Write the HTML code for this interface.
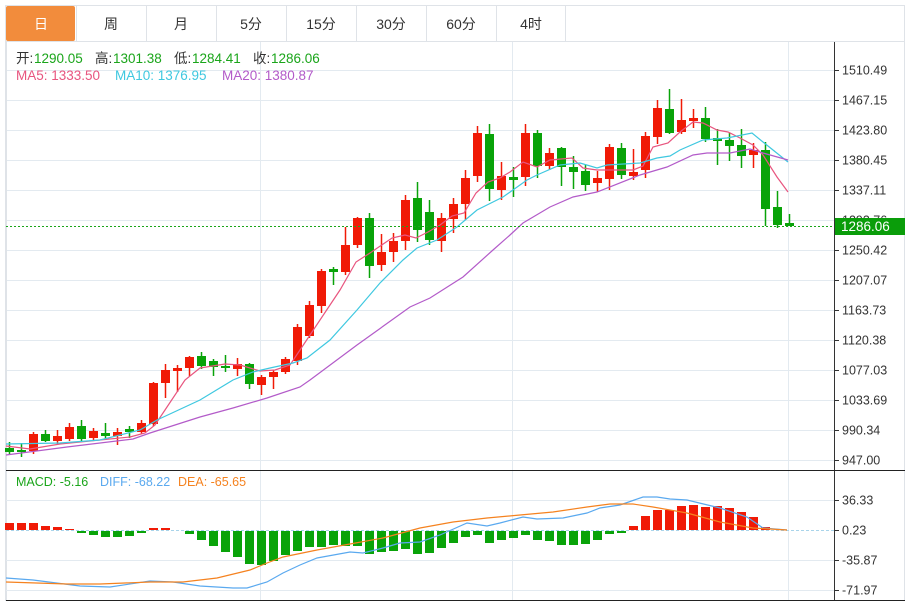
<!DOCTYPE html>
<html><head><meta charset="utf-8"><style>
body{margin:0;background:#fff;width:910px;height:602px;overflow:hidden;font-family:"Liberation Sans","Noto Sans CJK SC",sans-serif}
svg{position:absolute;left:0;top:0}
</style></head><body>
<svg id="s" width="910" height="602" xmlns="http://www.w3.org/2000/svg" font-family="Liberation Sans, Noto Sans CJK SC, sans-serif"></svg>
<script>
var s=document.getElementById('s'),h='';
h+='<rect x="5.5" y="5.5" width="899" height="595" fill="none" stroke="#dfe3e8"/>';
var tabs=['日','周','月','5分','15分','30分','60分','4时'];
for(var i=0;i<8;i++){var x=6+i*70;
 if(i==0)h+='<rect x="6" y="6" width="69" height="35" rx="2" fill="#f28c3c"/>';
 else h+='<line x1="'+(x+0.5)+'" y1="6" x2="'+(x+0.5)+'" y2="41" stroke="#dfe3e8"/>';
 h+='<text x="'+(x+35)+'" y="29" font-size="14" text-anchor="middle" fill="'+(i==0?'#fff':'#333')+'">'+tabs[i]+'</text>';}
h+='<line x1="565.5" y1="6" x2="565.5" y2="41" stroke="#dfe3e8"/>';
h+='<line x1="6" y1="41.5" x2="905" y2="41.5" stroke="#dfe3e8"/>';
var lab=['1510.49','1467.15','1423.80','1380.45','1337.11','1293.76','1250.42','1207.07','1163.73','1120.38','1077.03','1033.69','990.34','947.00'];
for(i=0;i<14;i++){var y=70+i*30.0;h+='<line x1="6" y1="'+(y+.5)+'" x2="834" y2="'+(y+.5)+'" stroke="#e3eaf0"/><line x1="834" y1="'+(y+.5)+'" x2="839" y2="'+(y+.5)+'" stroke="#333"/><text x="842" y="'+(y+4.5)+'" font-size="12.5" fill="#333">'+lab[i]+'</text>';}
[260,512,788].forEach(function(x){h+='<line x1="'+(x+.5)+'" y1="42" x2="'+(x+.5)+'" y2="600" stroke="#e3eaf0"/>';});
h+='<line x1="6.5" y1="42" x2="6.5" y2="600" stroke="#dfe3e8"/>';
h+='<line x1="834.5" y1="42" x2="834.5" y2="600" stroke="#333"/>';
h+='<line x1="6" y1="470.5" x2="905" y2="470.5" stroke="#222"/>';
h+='<line x1="6" y1="600.5" x2="905" y2="600.5" stroke="#222"/>';
// legend
function t(x,y,txt,col,fs){h+='<text x="'+x+'" y="'+y+'" font-size="'+(fs||13.5)+'" fill="'+col+'">'+txt+'</text>';}
t(16,63,'开:','#333');t(34,63,'1290.05','#1aa51a');
t(95,63,'高:','#333');t(113,63,'1301.38','#1aa51a');
t(174,63,'低:','#333');t(192,63,'1284.41','#1aa51a');
t(253,63,'收:','#333');t(271,63,'1286.06','#1aa51a');
t(16,80,'MA5: 1333.50','#e8557f');t(115,80,'MA10: 1376.95','#3fc8e0');t(222,80,'MA20: 1380.87','#b35bc9');
var c=[['g',448,452,442,455],['g',450,452,443,457],['r',434,451,432,454],['g',434,441,430,442],['r',436,441,430,444],['r',427,439,423,441],['g',426,439,420,442],['r',431,438,428,441],['g',433,436,423,440],['r',432,436,428,445],['g',429,432,426,438],['r',423,432,420,434],['r',383,424,382,426],['r',370,383,364,398],['r',368,371,365,392],['r',357,368,356,376],['g',356,366,352,369],['g',361,367,359,376],['g',366,368,355,372],['r',364,369,358,376],['g',364,384,363,389],['r',377,385,375,395],['r',372,377,370,389],['r',359,372,357,374],['r',327,361,324,365],['r',305,336,301,338],['r',271,306,269,313],['g',269,272,267,285],['r',245,272,227,275],['r',218,245,217,248],['g',218,266,213,278],['r',252,265,234,271],['r',241,252,233,262],['r',200,241,195,250],['g',198,230,182,242],['g',212,240,200,245],['r',218,241,213,252],['r',204,219,198,233],['r',178,204,170,220],['r',133,176,126,182],['g',134,189,124,201],['r',176,190,162,200],['g',177,180,167,197],['r',133,177,124,186],['g',133,166,130,178],['r',153,166,148,170],['g',148,167,147,186],['g',167,172,156,189],['g',171,185,165,191],['r',178,183,171,192],['r',147,179,144,190],['g',148,175,143,179],['r',172,176,149,180],['r',136,170,132,178],['r',108,137,100,144],['g',109,133,89,134],['r',120,132,99,134],['r',118,121,109,128],['g',118,139,107,142],['g',138,141,129,165],['g',140,146,133,161],['g',145,156,129,168],['r',150,155,143,168],['g',150,209,142,226],['g',207,225,191,228],['g',223,226,214,226]];
var R='#f01a06',G='#09a309';
for(i=0;i<c.length;i++){var x=9+12*i,d=c[i],col=d[0]=='r'?R:G;
 h+='<line x1="'+(x+.5)+'" y1="'+d[3]+'" x2="'+(x+.5)+'" y2="'+d[4]+'" stroke="'+col+'" stroke-width="1.5"/>';
 h+='<rect x="'+(x-4)+'" y="'+d[1]+'" width="9" height="'+Math.max(2,d[2]-d[1])+'" fill="'+col+'"/>';}
function pl(p,col,w){h+='<polyline fill="none" stroke="'+col+'" stroke-width="'+(w||1.2)+'" points="'+p+'"/>';}
pl('6,446 30,449 60,444 90,441 130,437 145,433 155,425 165,410 185,380 200,368 225,364 240,365 260,371 275,370 290,365 300,350 320,320 340,290 356,262 370,253 392,238 405,235 416,238 428,232 440,225 452,216 464,213 476,193 488,182 500,178 510,172 523,162 537,167 550,160 572,158 583,168 597,170 633,170 643,166 653,147 668,143 680,132 693,122 703,123 717,130 728,132 740,138 753,145 763,155 777,177 788,192','#e8557f');
pl('6,444 60,443 100,440 140,430 157,420 200,400 233,380 253,372 270,368 293,363 307,358 330,340 357,310 380,283 403,260 417,248 437,240 457,227 477,210 503,197 527,180 537,175 560,165 580,163 597,168 607,165 640,163 657,158 670,156 680,150 703,140 727,138 752,133 763,142 788,162','#3fc8e0');
pl('6,455 67,447 133,439 150,433 200,417 233,408 267,398 300,387 310,380 357,345 410,307 430,298 463,277 493,250 510,235 523,223 550,207 573,197 597,192 640,175 667,167 693,155 707,153 730,153 750,149 763,153 788,160','#b35bc9');
h+='<line x1="6" y1="226.5" x2="834" y2="226.5" stroke="#1aa51a" stroke-dasharray="2,2"/>';
h+='<rect x="835" y="218" width="70" height="17" fill="#0a9d0a"/><text x="841" y="231" font-size="13.5" fill="#fff">1286.06</text>';
var ml=[['36.33',500],['0.23',530],['-35.87',560],['-71.97',590]];
ml.forEach(function(m){if(m[0]!='0.23')h+='<line x1="6" y1="'+(m[1]+.5)+'" x2="834" y2="'+(m[1]+.5)+'" stroke="#e3eaf0"/>';h+='<line x1="834" y1="'+(m[1]+.5)+'" x2="839" y2="'+(m[1]+.5)+'" stroke="#333"/><text x="842" y="'+(m[1]+4.5)+'" font-size="12.5" fill="#333">'+m[0]+'</text>';});
h+='<line x1="6" y1="530.5" x2="834" y2="530.5" stroke="#a9d4ea" stroke-dasharray="3,2"/>';
t(16,486,'MACD: -5.16','#1aa51a',12.5);t(100,486,'DIFF: -68.22','#5aa9ef',12.5);t(178,486,'DEA: -65.65','#f5821f',12.5);
var b=[523,523,523,526,527,529,533,535,537,537,536,533,528,528,531,534,540,546,552,557,564,565,561,555,551,547,547,545,546,546,554,552,551,549,554,553,548,543,537,535,543,540,538,535,540,541,545,545,544,540,534,533,526,516,510,510,506,505,507,506,508,512,517,527,529.5,530];
for(i=0;i<b.length;i++){var x=9+12*i,v=b[i];if(Math.abs(v-530)<0.6)continue;
 if(v<530)h+='<rect x="'+(x-4)+'" y="'+v+'" width="9" height="'+(530-v)+'" fill="'+R+'"/>';
 else h+='<rect x="'+(x-4)+'" y="531" width="9" height="'+(v-531)+'" fill="'+G+'"/>';}
pl('6,578 33,580 80,586 110,587 150,581 173,582 200,586 233,588 247,588 267,582 283,573 300,565 317,558 350,552 363,553 383,548 400,543 420,542 440,535 467,523 487,526 500,523 523,517 537,519 563,518 587,513 600,508 620,505 643,497 657,497 670,499 687,500 720,508 747,517 763,528 787,530','#5aa9ef');
pl('6,582 67,584 100,584 150,582 183,582 217,578 250,570 267,563 283,557 317,550 350,544 383,538 420,528 453,522 487,518 520,515 553,512 587,507 610,504 633,504 653,507 687,513 720,522 753,528 787,530','#f5821f');
s.innerHTML=h;
</script>
</body></html>
